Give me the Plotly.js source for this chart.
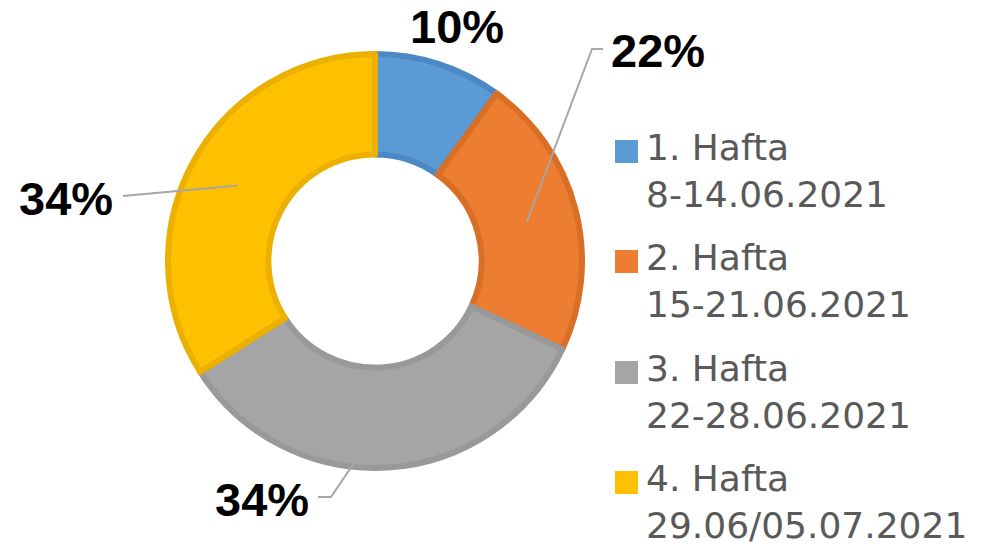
<!DOCTYPE html>
<html>
<head>
<meta charset="utf-8">
<script src="https://cdn.plot.ly/plotly-3.0.1.min.js"></script>
<style>html,body{margin:0;padding:0;background:#fff;}#chart{width:1001px;height:550px;}</style>
</head>
<body>
<div id="chart"></div>
<script>
// ---- data ----
const categories = ['1. Hafta', '2. Hafta', '3. Hafta', '4. Hafta'];
const dateRanges = ['8-14.06.2021', '15-21.06.2021', '22-28.06.2021', '29.06/05.07.2021'];
const values = [10, 22, 34, 34];

// ---- styles ----
const fillColors = ['#5B9BD5', '#ED7D31', '#A5A5A5', '#FFC000'];
const borderColors = ['#4C89C4', '#D96F27', '#999999', '#EBB000'];

const W = 1001, H = 550;
const cx = 375, cy = 261, R = 207, HOLE = 0.515;
const px = x => x / W;
const py = y => 1 - y / H;

// label layout (pixel positions of percentage texts and leader-line bends)
const labelLayout = [
  {x: 457, y: 27, bends: null},
  {x: 658, y: 50, bends: [[592, 49], [603, 49]]},
  {x: 262, y: 499, bends: [[331, 497], [318, 497]]},
  {x: 66, y: 198, bends: [[123, 196]]}
];

const total = values.reduce((a, b) => a + b, 0);
const shapes = [];
const annotations = [];
let cum = 0;
values.forEach((v, i) => {
  const mid = (cum + v / 2) / total * 2 * Math.PI;
  cum += v;
  const rm = R * (1 + HOLE) / 2;
  const ax = cx + rm * Math.sin(mid);
  const ay = cy - rm * Math.cos(mid);
  const L = labelLayout[i];
  if (L.bends) {
    let d = 'M' + px(ax) + ',' + py(ay);
    L.bends.forEach(b => { d += ' L' + px(b[0]) + ',' + py(b[1]); });
    shapes.push({type: 'path', xref: 'paper', yref: 'paper', path: d,
      line: {color: '#A6A6A6', width: 2}});
  }
  annotations.push({
    xref: 'paper', yref: 'paper', x: px(L.x), y: py(L.y),
    xanchor: 'center', yanchor: 'middle', showarrow: false,
    text: '<b>' + Math.round(v / total * 100) + '%</b>',
    font: {family: 'Liberation Sans, Arial, sans-serif', size: 47, color: '#000000'}
  });
});

// manual legend
const legendTop = [140, 250, 361, 471];
categories.forEach((c, i) => {
  const t = legendTop[i];
  shapes.push({type: 'rect', xref: 'paper', yref: 'paper',
    x0: px(615), x1: px(638), y0: py(t), y1: py(t + 23),
    fillcolor: fillColors[i], line: {width: 0}});
  annotations.push({
    xref: 'paper', yref: 'paper', x: px(645), y: py(t - 14),
    xanchor: 'left', yanchor: 'top', align: 'left', showarrow: false,
    borderpad: 0,
    text: c + '<br>' + dateRanges[i],
    font: {family: 'DejaVu Sans, sans-serif', size: 36, color: '#595959'}
  });
});

const trace = {
  type: 'pie',
  labels: categories,
  values: values,
  hole: HOLE,
  sort: false,
  direction: 'clockwise',
  rotation: 0,
  textinfo: 'none',
  hoverinfo: 'label+percent',
  showlegend: false,
  marker: {colors: fillColors, line: {color: borderColors, width: 6}},
  domain: {x: [px(cx - R), px(cx + R)], y: [py(cy + R), py(cy - R)]}
};

const layout = {
  width: W, height: H,
  margin: {l: 0, r: 0, t: 0, b: 0},
  paper_bgcolor: '#ffffff',
  showlegend: false,
  shapes: shapes,
  annotations: annotations
};

Plotly.newPlot('chart', [trace], layout, {displayModeBar: false, staticPlot: true});
</script>
</body>
</html>
